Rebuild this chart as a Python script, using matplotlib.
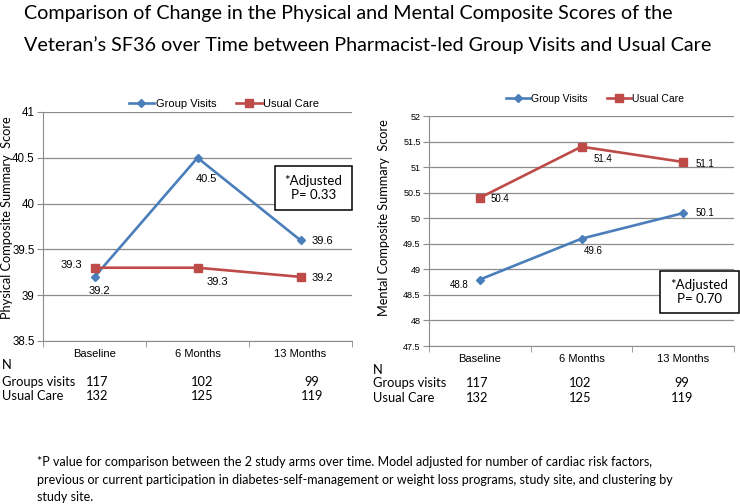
import matplotlib
matplotlib.use("Agg")
import matplotlib.pyplot as plt
from matplotlib.patches import Rectangle

categories = ["Baseline", "6 Months", "13 Months"]
phys_group = [39.2, 40.5, 39.6]
phys_usual = [39.3, 39.3, 39.2]
ment_group = [48.8, 49.6, 50.1]
ment_usual = [50.4, 51.4, 51.1]
n_group = [117, 102, 99]
n_usual = [132, 125, 119]
phys_yticks = [38.5, 39, 39.5, 40, 40.5, 41]
ment_yticks = [47.5, 48, 48.5, 49, 49.5, 50, 50.5, 51, 51.5, 52]
phys_p = "*Adjusted\nP= 0.33"
ment_p = "*Adjusted\nP= 0.70"

BLUE = "#4A7EBB"
RED = "#BE4B48"
GRID = "#8C8C8C"
W, H = 740, 504
TFONT = ["Lato", "DejaVu Sans"]
AFONT = ["Liberation Sans", "DejaVu Sans"]
P = 0.72  # points per pixel

fig = plt.figure(figsize=(W / 100, H / 100), dpi=100)


def px(x0, y0, x1, y1):
    return [x0 / W, 1 - y1 / H, (x1 - x0) / W, (y1 - y0) / H]


def fmt(v):
    return "%g" % v


def panel(rect, g, u, yticks, ylabel, ylab_xy, goff, uoff, ptext, pbox, legx,
          ytick_fs, lab_fs, leg_fs, ms_g, ms_u):
    ax = fig.add_axes(rect)
    x = list(range(len(categories)))
    ax.plot(x, g, color=BLUE, lw=1.9, marker="D", ms=ms_g, label="Group Visits", zorder=3)
    ax.plot(x, u, color=RED, lw=1.9, marker="s", ms=ms_u, label="Usual Care", zorder=3)
    ax.set_xlim(-0.5, len(categories) - 0.5)
    ax.set_ylim(yticks[0], yticks[-1])
    ax.set_yticks(yticks)
    ax.set_yticklabels([fmt(t) for t in yticks], fontsize=ytick_fs, family=AFONT)
    ax.yaxis.grid(True, color=GRID, lw=0.9)
    ax.set_axisbelow(True)
    ax.set_xticks(x)
    ax.set_xticklabels(categories, fontsize=8, family=AFONT)
    ax.set_xticks([i - 0.5 for i in range(len(categories) + 1)], minor=True)
    ax.tick_params(axis="x", which="major", length=0, pad=6)
    ax.tick_params(axis="x", which="minor", length=4, color=GRID)
    ax.tick_params(axis="y", length=4, color=GRID, pad=2)
    for s in ["top", "right"]:
        ax.spines[s].set_visible(False)
    for s in ["left", "bottom"]:
        ax.spines[s].set_color(GRID)
    fig.text(ylab_xy[0] / W, 1 - ylab_xy[1] / H, ylabel, rotation=90, fontsize=9.2,
             family=TFONT, ha="center", va="center")
    for vals, offs in [(g, goff), (u, uoff)]:
        for i, v in enumerate(vals):
            dx, dy, ha = offs[i]
            ax.annotate(fmt(v), (i, v), xytext=(dx * P, -dy * P), textcoords="offset points",
                        fontsize=lab_fs, family=AFONT, ha=ha, va="center")
    ax.legend(loc="center", bbox_to_anchor=(legx[0], legx[1]), ncol=2, frameon=False,
              prop={"family": AFONT, "size": leg_fs}, handlelength=2.3,
              handletextpad=0.15, columnspacing=1.8, borderaxespad=0)
    # p-value box (pixel coords)
    bx0, by0, bx1, by1 = pbox
    fig.patches.append(Rectangle((bx0 / W, 1 - by1 / H), (bx1 - bx0) / W, (by1 - by0) / H,
                                 transform=fig.transFigure, fc="white", ec="black", lw=1.1,
                                 zorder=5))
    fig.text((bx0 + bx1) / 2 / W, 1 - (by0 + by1) / 2 / H, ptext, fontsize=9.5, family=TFONT,
             ha="center", va="center", linespacing=1.25, zorder=6)
    return ax


panel(px(43, 112, 352, 341), phys_group, phys_usual, phys_yticks,
      "Physical Composite Summary  Score", (7, 218),
      [(5, 14, "center"), (9, 21, "center"), (11, 1, "left")],
      [(-12, -3, "right"), (20, 14, "center"), (11, 1, "left")],
      phys_p, (275, 166, 352, 210), ((224 - 43) / 309, 1 + (112 - 104) / 229),
      8.3, 8, 8, 4.5, 5.5)

panel(px(429, 116, 734, 346), ment_group, ment_usual, ment_yticks,
      "Mental Composite Summary  Score", (384, 218),
      [(-11, 5, "right"), (12, 12, "center"), (12, 0, "left")],
      [(11, 1, "left"), (12, 12, "left"), (12, 2, "left")],
      ment_p, (660, 271, 739, 313), ((595 - 429) / 305, 1 + (116 - 99) / 230),
      6.5, 7, 7.5, 4.5, 6)

# N table
tables = [(2, [97, 202, 312], [365, 382, 396]),
          (373, [477, 580, 682], [370, 383, 398])]
for x0, cols, rows in tables:
    fig.text(x0 / W, 1 - rows[0] / H, "N", fontsize=9.3, family=TFONT, va="center")
    fig.text(x0 / W, 1 - rows[1] / H, "Groups visits", fontsize=9.3, family=TFONT, va="center")
    fig.text(x0 / W, 1 - rows[2] / H, "Usual Care", fontsize=9.3, family=TFONT, va="center")
    for i, c in enumerate(cols):
        fig.text(c / W, 1 - rows[1] / H, str(n_group[i]), fontsize=9.3, family=TFONT,
                 ha="center", va="center")
        fig.text(c / W, 1 - rows[2] / H, str(n_usual[i]), fontsize=9.3, family=TFONT,
                 ha="center", va="center")

fig.text(24 / W, 1 - 14 / H,
         "Comparison of Change in the Physical and Mental Composite Scores of the",
         fontsize=14.2, family=TFONT, va="center")
fig.text(24 / W, 1 - 45 / H,
         "Veteran\u2019s SF36 over Time between Pharmacist-led Group Visits and Usual Care",
         fontsize=14.2, family=TFONT, va="center")

foot = ["*P value for comparison between the 2 study arms over time. Model adjusted for number of cardiac risk factors,",
        "previous or current participation in diabetes-self-management or weight loss programs, study site, and clustering by",
        "study site."]
for k, line in enumerate(foot):
    fig.text(37 / W, 1 - (462 + 17.5 * k) / H, line, fontsize=9, family=TFONT, va="center")

fig.savefig("out.png", dpi=100)
